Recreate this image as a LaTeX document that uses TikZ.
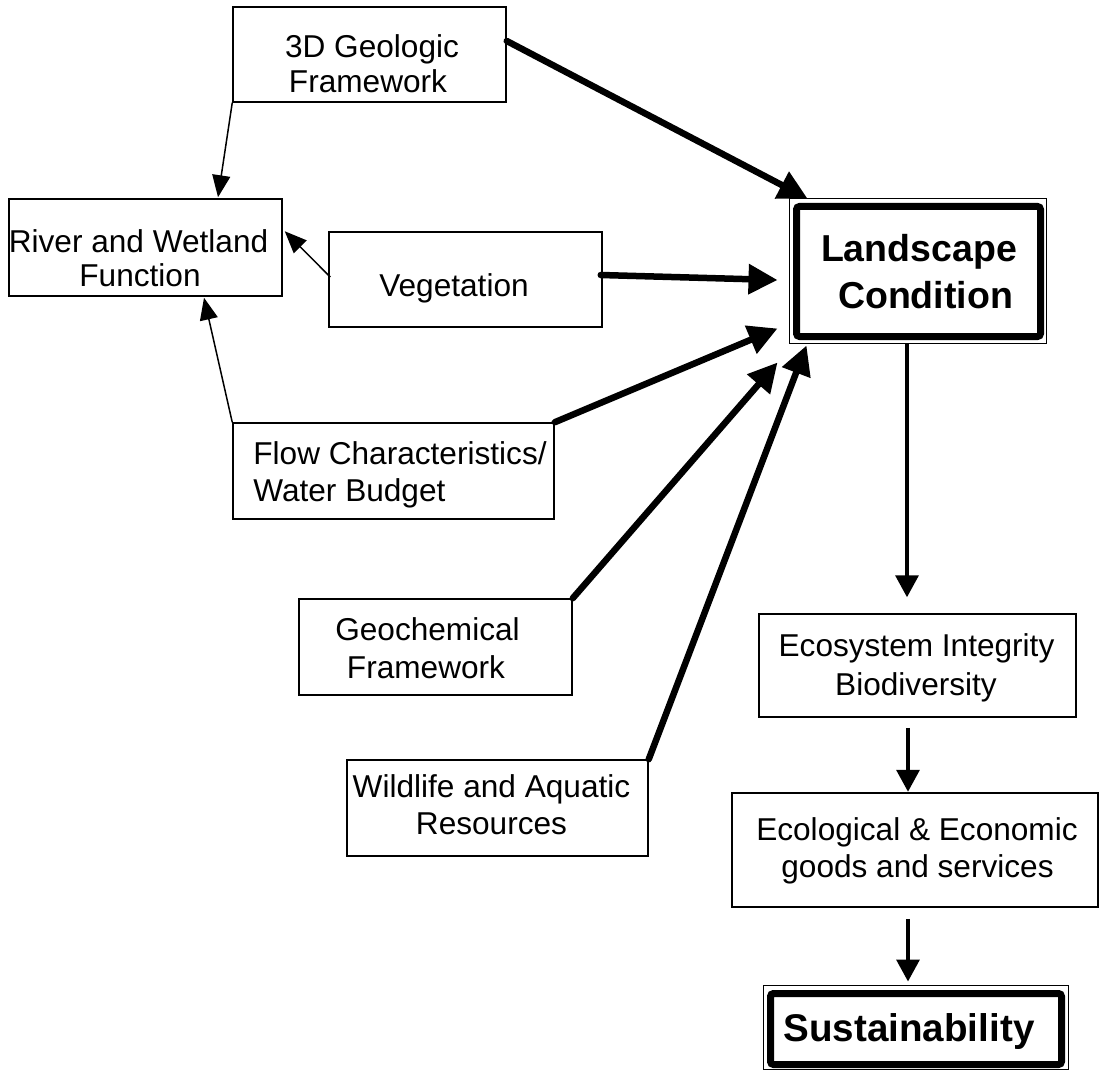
\documentclass[tikz,border=0pt]{standalone}
\usepackage{fontspec}
\setmainfont{Liberation Sans}
\usetikzlibrary{arrows.meta,calc}
\begin{document}
\begin{tikzpicture}[x=0.5pt,y=-0.5pt,
  box/.style={draw, line width=0.75pt, inner sep=0pt},
  heavybox/.style={draw, line width=0.5pt, inner sep=0pt},
  heavyrim/.style={line width=3.5pt, rounded corners=1.5pt},
  lbl/.style={inner sep=0pt, anchor=base, font=\fontsize{15.8}{18}\selectfont},
  lblw/.style={lbl, anchor=base west},
  blbl/.style={inner sep=0pt, anchor=base, font=\fontsize{18.75}{22}\selectfont\bfseries},
  thinarrow/.style={line width=0.75pt, -{Triangle[length=11pt,width=9pt]}},
  thickarrow/.style={line width=3.25pt, line cap=round, -{Triangle[length=14.5pt,width=14.5pt]}},
  downarrow/.style={line width=1.75pt, -{Triangle[length=11pt,width=11.5pt]}},
]
\useasboundingbox (0,0) rectangle (1099,1070);

% boxes
\node[box, minimum width=136.5pt, minimum height=47.5pt] (geo3d) at (369.5,54.5) {};
\node[box, minimum width=136.5pt, minimum height=48.5pt] (river) at (145.5,247.5) {};
\node[box, minimum width=136.5pt, minimum height=47.5pt] (veg) at (465.5,279.5) {};
\node[box, minimum width=160.5pt, minimum height=48pt] (flow) at (393.5,471) {};
\node[box, minimum width=136.5pt, minimum height=48pt] (geochem) at (435.5,647) {};
\node[box, minimum width=150.5pt, minimum height=48pt] (wild) at (497.5,808) {};
\node[box, minimum width=158.5pt, minimum height=51.5pt] (ecosys) at (917.5,665.5) {};
\node[box, minimum width=183pt, minimum height=57pt] (ecol) at (915,850) {};
\node[heavybox, minimum width=128.5pt, minimum height=72pt] (land) at (917.5,271) {};
\node[heavybox, minimum width=152.5pt, minimum height=42pt] (sust) at (915.5,1027) {};

% heavy inner frames of the two key boxes
\draw[heavyrim] ($(land.north west)+(8,8)$) rectangle ($(land.south east)+(-6,-7)$);
\draw[heavyrim] ($(sust.north west)+(8,9)$) rectangle ($(sust.south east)+(-7,-5)$);

% labels
\node[lbl] (t3da) at (372,58) {3D Geologic};
\node[lbl] (t3db) at (368,93) {Framework};
\node[lbl] (triva) at (138.5,252) {River and Wetland};
\node[lbl] (trivb) at (140,286) {Function};
\node[lbl] (tveg) at (454,296) {Vegetation};
\node[blbl] (tlanda) at (919,262) {Landscape};
\node[blbl] (tlandb) at (925.5,308) {Condition};
\node[lblw] (tflowa) at (253,464) {Flow Characteristics/};
\node[lblw] (tflowb) at (253,501) {Water Budget};
\node[lbl] (tgeoa) at (427.5,640) {Geochemical};
\node[lbl] (tgeob) at (426,678) {Framework};
\node[lbl] (tecoa) at (916.5,656) {Ecosystem Integrity};
\node[lbl] (tecob) at (916,695) {Biodiversity};
\node[lbl] (tecla) at (917,840) {Ecological \& Economic};
\node[lbl] (teclb) at (917.5,877) {goods and services};
\node[lbl] (twila) at (491.5,797) {Wildlife and Aquatic};
\node[lbl] (twilb) at (491.5,834) {Resources};
\node[blbl, font=\fontsize{19.3}{22}\selectfont\bfseries] (tsust) at (909,1041) {Sustainability};

% feeds into the landscape condition
\draw[thickarrow] ($(geo3d.north east)!0.36!(geo3d.south east)$) -- ($(land.north west)+(19,0)$);
\draw[thickarrow] ($(veg.east)+(-2,-4.5)$) -- ($(land.west)+(-11,9)$);
\draw[thickarrow] (flow.north east) -- ($(land.south west)+(-11,-15)$);
\draw[thickarrow] (geochem.north east) -- ($(land.south west)+(-11,19)$);
\draw[thickarrow] (wild.north east) -- ($(land.south west)+(18,2)$);

% feeds into river and wetland function
\draw[thinarrow] (geo3d.south west) -- ($(river.north)+(72.5,-1)$);
\draw[thinarrow] ($(veg.west)+(2,-2.5)$) -- ($(river.north east)+(2,33)$);
\draw[thinarrow] (flow.north west) -- ($(river.south)+(58.5,1)$);

% downstream chain
\draw[downarrow] ($(land.south)+(-10.5,0)$) -- ($(ecosys.north)+(-10.5,-16)$);
\draw[downarrow] ($(ecosys.south)+(-9.5,10)$) -- ($(ecosys.south)+(-9.5,74)$);
\draw[downarrow] ($(ecol.south)+(-7,11)$) -- ($(sust.north)+(-7.5,-3)$);
\end{tikzpicture}
\end{document}
